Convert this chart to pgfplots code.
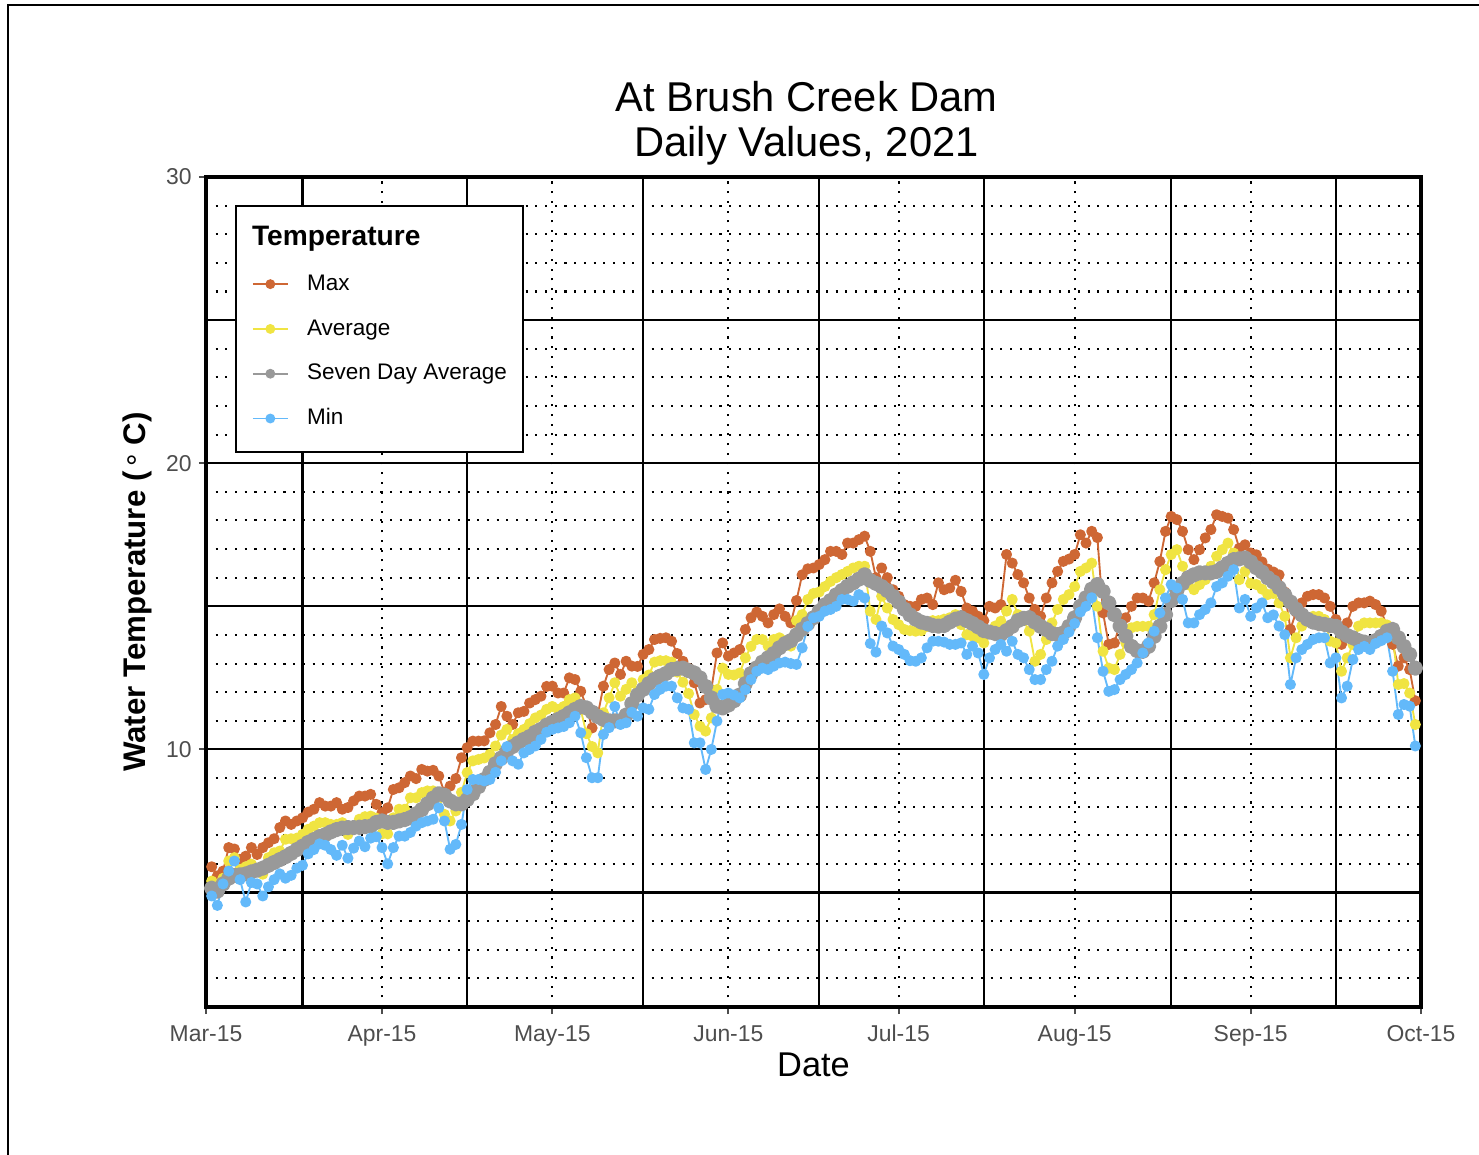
\documentclass[border=0pt]{standalone}
\usepackage{fontspec}
\setmainfont{Liberation Sans}
\usepackage{pgfplots}
\usepackage{pgfplotstable}
\pgfplotsset{compat=1.18}
\definecolor{maxc}{RGB}{206,103,52}
\definecolor{avgc}{RGB}{240,228,66}
\definecolor{sevc}{RGB}{153,153,153}
\definecolor{minc}{RGB}{99,185,250}
\definecolor{tickgray}{RGB}{77,77,77}
\pgfplotstableread{
d mx av sd mn
1 5.90 5.40 5.15 4.88
2 5.58 5.30 5.05 4.55
3 5.75 5.50 5.30 5.30
4 6.57 6.10 5.50 5.75
5 6.52 6.22 5.60 6.10
6 6.16 5.81 5.62 5.45
7 6.27 5.90 5.65 4.67
8 6.57 5.99 5.72 5.35
9 6.33 5.81 5.78 5.30
10 6.57 5.64 5.85 4.88
11 6.74 6.22 5.95 5.20
12 6.88 6.39 6.05 5.45
13 7.27 6.45 6.15 5.65
14 7.50 6.86 6.25 5.50
15 7.38 6.88 6.37 5.60
16 7.50 6.90 6.50 5.85
17 7.61 7.03 6.62 5.95
18 7.81 7.21 6.75 6.35
19 7.91 7.32 6.85 6.50
20 8.14 7.44 6.95 6.70
21 8.02 7.44 7.02 6.65
22 8.02 7.38 7.12 6.50
23 8.14 7.38 7.20 6.30
24 7.91 7.44 7.25 6.65
25 7.97 7.03 7.27 6.20
26 8.20 7.27 7.27 6.55
27 8.37 7.56 7.28 6.80
28 8.37 7.65 7.30 6.60
29 8.43 7.67 7.32 6.90
30 8.08 7.60 7.45 6.95
31 7.79 7.05 7.50 6.57
32 7.96 7.05 7.45 6.00
33 8.60 7.61 7.45 6.57
34 8.66 7.91 7.50 6.97
35 8.84 7.91 7.55 6.97
36 9.07 8.31 7.62 7.10
37 8.98 8.31 7.75 7.32
38 9.30 8.49 7.90 7.44
39 9.24 8.55 8.10 7.50
40 9.27 8.55 8.30 7.56
41 9.07 8.37 8.45 7.96
42 8.50 7.73 8.40 7.50
43 8.72 7.50 8.20 6.51
44 8.98 7.85 8.10 6.68
45 9.71 8.50 8.10 7.38
46 10.06 9.19 8.25 8.60
47 10.29 9.60 8.45 8.95
48 10.29 9.65 8.70 8.95
49 10.30 9.70 8.95 8.90
50 10.58 9.83 9.20 8.95
51 10.87 10.12 9.50 9.20
52 11.50 10.50 9.70 9.60
53 11.16 10.70 9.94 10.10
54 10.87 10.35 10.10 9.60
55 11.28 10.55 10.23 9.48
56 11.33 10.70 10.35 9.88
57 11.62 10.90 10.45 10.00
58 11.74 11.10 10.60 10.12
59 11.86 11.20 10.70 10.35
60 12.20 11.40 10.85 10.60
61 12.21 11.50 10.95 10.70
62 11.97 11.40 11.05 10.75
63 11.97 11.50 11.15 10.80
64 12.50 11.74 11.28 10.93
65 12.44 11.80 11.40 11.16
66 12.03 11.40 11.50 10.58
67 11.50 10.55 11.45 9.71
68 10.75 10.10 11.30 9.01
69 11.20 9.88 11.15 9.01
70 12.21 11.28 11.05 10.52
71 12.79 11.80 11.00 10.76
72 13.02 12.33 11.00 11.50
73 12.62 11.86 11.00 10.87
74 13.08 12.10 11.20 10.93
75 12.91 12.33 11.60 11.30
76 12.90 12.03 11.90 11.16
77 13.32 12.44 12.10 11.45
78 13.49 12.60 12.30 11.40
79 13.84 13.05 12.45 11.92
80 13.88 13.10 12.56 12.10
81 13.90 13.10 12.65 12.21
82 13.78 13.05 12.79 12.21
83 13.35 12.70 12.82 11.80
84 13.08 12.35 12.84 11.45
85 12.84 11.95 12.75 11.40
86 12.33 11.22 12.67 10.23
87 11.62 10.81 12.50 10.23
88 11.74 10.64 12.20 9.30
89 12.09 11.10 11.80 10.00
90 13.37 12.09 11.51 10.99
91 13.72 12.84 11.45 11.92
92 13.26 12.62 11.55 11.97
93 13.37 12.60 11.70 11.90
94 13.49 12.67 11.90 11.80
95 14.19 13.20 12.30 12.09
96 14.60 13.60 12.65 12.44
97 14.80 13.84 12.85 12.73
98 14.65 13.84 13.05 12.84
99 14.42 13.61 13.20 12.79
100 14.71 13.84 13.35 12.91
101 14.91 13.90 13.55 13.02
102 14.65 13.80 13.70 13.05
103 14.42 13.61 13.80 13.00
104 15.20 14.50 14.00 12.97
105 16.10 14.71 14.20 13.55
106 16.31 15.24 14.40 14.30
107 16.34 15.45 14.60 14.60
108 16.46 15.50 14.83 14.65
109 16.63 15.69 15.05 14.83
110 16.92 15.87 15.20 14.89
111 16.92 16.00 15.40 15.00
112 16.81 16.11 15.55 15.24
113 17.21 16.22 15.70 15.24
114 17.21 16.34 15.82 15.18
115 17.33 16.40 15.95 15.41
116 17.45 16.40 16.10 15.29
117 16.92 14.83 15.90 13.70
118 16.00 14.54 15.80 13.40
119 16.34 15.35 15.69 14.31
120 16.00 14.94 15.55 14.07
121 15.58 14.54 15.35 13.61
122 15.35 14.36 15.15 13.49
123 15.06 14.19 14.90 13.32
124 15.00 14.15 14.70 13.10
125 15.00 14.13 14.55 13.08
126 15.24 14.15 14.45 13.20
127 15.29 14.30 14.40 13.55
128 15.06 14.50 14.33 13.78
129 15.82 14.50 14.31 13.78
130 15.58 14.55 14.33 13.75
131 15.64 14.60 14.45 13.67
132 15.91 14.71 14.55 13.67
133 15.52 14.36 14.60 13.72
134 14.94 14.01 14.50 13.32
135 14.83 13.96 14.40 13.61
136 14.65 13.90 14.28 13.37
137 14.50 13.72 14.15 12.62
138 15.00 14.07 14.10 13.20
139 14.94 14.31 14.05 13.49
140 15.06 14.48 14.02 13.67
141 16.81 14.83 14.15 13.43
142 16.51 15.24 14.30 13.78
143 16.11 14.71 14.50 13.32
144 15.82 14.50 14.58 13.20
145 15.29 14.13 14.60 12.79
146 14.89 13.08 14.45 12.44
147 14.65 13.32 14.30 12.44
148 15.29 13.84 14.19 12.79
149 15.82 14.42 14.05 13.08
150 16.22 14.89 14.01 13.61
151 16.57 15.24 14.07 13.84
152 16.65 15.41 14.30 14.10
153 16.81 15.69 14.60 14.40
154 17.50 16.22 15.00 14.80
155 17.21 16.34 15.30 15.00
156 17.62 16.51 15.60 15.30
157 17.40 15.00 15.76 13.90
158 14.77 13.43 15.52 12.73
159 13.67 12.84 15.12 12.03
160 13.72 12.79 14.71 12.09
161 14.42 13.32 14.31 12.44
162 14.60 13.72 13.96 12.62
163 15.00 14.25 13.60 12.79
164 15.29 14.30 13.45 13.02
165 15.29 14.30 13.43 13.37
166 15.18 14.30 13.60 13.72
167 15.82 14.71 13.95 14.13
168 16.57 15.58 14.30 14.77
169 17.62 16.28 14.71 15.29
170 18.14 16.81 15.20 15.76
171 18.03 16.98 15.55 15.64
172 17.62 16.40 15.80 15.24
173 16.98 15.76 16.00 14.42
174 16.63 15.58 16.10 14.42
175 16.98 15.76 16.17 14.71
176 17.39 15.93 16.17 14.89
177 17.68 16.40 16.17 15.12
178 18.20 16.75 16.22 15.69
179 18.14 16.98 16.35 15.82
180 18.08 17.21 16.50 16.05
181 17.68 16.86 16.63 16.28
182 17.03 15.93 16.66 14.94
183 17.15 16.22 16.69 15.24
184 16.86 15.80 16.55 14.65
185 16.80 15.76 16.35 14.94
186 16.55 15.60 16.20 15.12
187 16.30 15.41 16.00 14.60
188 16.20 15.45 15.85 14.70
189 16.10 15.12 15.65 14.31
190 15.50 14.65 15.40 14.01
191 14.20 13.20 15.15 12.27
192 14.80 13.90 14.90 13.20
193 15.12 14.31 14.70 13.49
194 15.35 14.54 14.55 13.67
195 15.41 14.65 14.45 13.84
196 15.41 14.65 14.40 13.90
197 15.29 14.54 14.37 13.90
198 15.00 13.78 14.33 13.02
199 14.54 13.72 14.30 13.20
200 13.67 12.73 14.10 11.80
201 14.42 13.20 13.98 12.21
202 15.00 13.67 13.90 13.14
203 15.12 14.31 13.80 13.49
204 15.12 14.42 13.75 13.60
205 15.18 14.42 13.72 13.49
206 15.06 14.42 13.80 13.70
207 14.83 14.42 13.95 13.80
208 14.31 14.35 14.13 13.90
209 13.67 13.96 14.19 12.73
210 12.91 12.27 13.90 11.22
211 13.20 12.30 13.60 11.57
212 12.79 11.97 13.32 11.51
213 11.70 10.87 12.84 10.12
}\datatable
\tikzset{
  dotgrid/.style={black, line width=1pt, dash pattern=on 1pt off 3.65pt},
  solidgrid/.style={black, line width=1pt},
}
\begin{document}
\begin{tikzpicture}
\useasboundingbox (-98.88pt,-71.04pt) rectangle (611.04pt,483.36pt);
\draw[line width=1.2pt] (-95.04pt,-80pt) -- (-95.04pt,480.96pt) -- (620pt,480.96pt);
\node[anchor=base, font=\fontsize{20}{24}\selectfont] at (288.2pt,429.9pt) {At Brush Creek Dam};
\node[anchor=base, font=\fontsize{20}{24}\selectfont] at (288.2pt,408.3pt) {Daily Values, 2021};
\begin{axis}[
  at={(0pt,0pt)}, anchor=south west,
  scale only axis, width=583.2pt, height=398.4pt,
  xmin=0, xmax=214, ymin=1, ymax=30,
  xtick={0,31,61,92,122,153,184,214},
  xticklabels={Mar-15,Apr-15,May-15,Jun-15,Jul-15,Aug-15,Sep-15,Oct-15},
  ytick={10,20,30},
  minor xtick={}, minor ytick={},
  tick align=outside, tick pos=left,
  major tick length=3.4pt,
  tick style={line width=1pt, color=tickgray},
  ticklabel style={font=\fontsize{11}{13}\selectfont, text=tickgray},
  xticklabel style={yshift=-1.4pt, text height=8pt, text depth=0pt},
  /pgf/number format/assume math mode=true,
  axis line style={line width=1.8pt, black},
  xlabel={Date},
  ylabel={\bfseries Water Temperature (\,\raisebox{-0.15em}{\mdseries°}\ C)},
  xlabel style={at={(axis description cs:0.5,-0.0843)}, anchor=base, font=\fontsize{16.5}{19}\selectfont},
  ylabel style={at={(axis description cs:-0.0568,0.5)}, anchor=center, font=\fontsize{15}{18}\selectfont},
  legend image code/.code={\draw[mark repeat=2,mark phase=2,#1] plot coordinates {(0pt,0pt) (8.4pt,0pt) (16.8pt,0pt)};},
  legend cell align=left,
  legend style={at={(0.0239,0.9663)}, anchor=north west, draw=black, line width=1pt, fill=white,
    inner xsep=7.6pt, inner ysep=10.5pt, row sep=10.5pt, column sep=8.8pt,
    font=\fontsize{10.8}{13}\selectfont,
    nodes={inner sep=0pt, text height=8.5pt, text depth=2.5pt}},
]
\pgfplotsinvokeforeach{2,3,4,6,7,8,9,11,12,13,14,16,17,18,19,21,22,23,24,26,27,28,29}{
  \draw[dotgrid] (axis cs:0,#1) -- (axis cs:214,#1);
}
\pgfplotsinvokeforeach{31,61,92,122,153,184}{
  \draw[dotgrid] (axis cs:#1,1) -- (axis cs:#1,30);
}
\pgfplotsinvokeforeach{5,10,15,20,25}{
  \draw[solidgrid] (axis cs:0,#1) -- (axis cs:214,#1);
}
\pgfplotsinvokeforeach{17,46,77,108,137,170,199}{
  \draw[solidgrid] (axis cs:#1,1) -- (axis cs:#1,30);
}
\addlegendimage{empty legend}
\addlegendentry{\hspace*{-26.4pt}{\fontsize{13.5}{16}\selectfont\bfseries Temperature}}
\addlegendimage{maxc, line width=0.9pt, mark=*, mark size=1.9pt, mark options={solid, draw=none, fill=maxc}}
\addlegendentry{Max}
\addlegendimage{avgc, line width=0.9pt, mark=*, mark size=1.9pt, mark options={solid, draw=none, fill=avgc}}
\addlegendentry{Average}
\addlegendimage{sevc, line width=0.9pt, mark=*, mark size=1.9pt, mark options={solid, draw=none, fill=sevc}}
\addlegendentry{Seven Day Average}
\addlegendimage{minc, line width=0.9pt, mark=*, mark size=1.9pt, mark options={solid, draw=none, fill=minc}}
\addlegendentry{Min}
\addplot[maxc, line width=0.9pt, line join=round, mark=*, mark size=2.2pt, mark options={solid, draw=none, fill=maxc}, forget plot] table[x=d, y=mx] {\datatable};
\addplot[avgc, line width=0.9pt, line join=round, mark=*, mark size=2.2pt, mark options={solid, draw=none, fill=avgc}, forget plot] table[x=d, y=av] {\datatable};
\addplot[sevc, line width=2.4pt, line join=round, mark=*, mark size=2.5pt, mark options={solid, draw=none, fill=sevc}, forget plot] table[x=d, y=sd] {\datatable};
\addplot[minc, line width=0.9pt, line join=round, mark=*, mark size=2.2pt, mark options={solid, draw=none, fill=minc}, forget plot] table[x=d, y=mn] {\datatable};
\end{axis}
\end{tikzpicture}
\end{document}
